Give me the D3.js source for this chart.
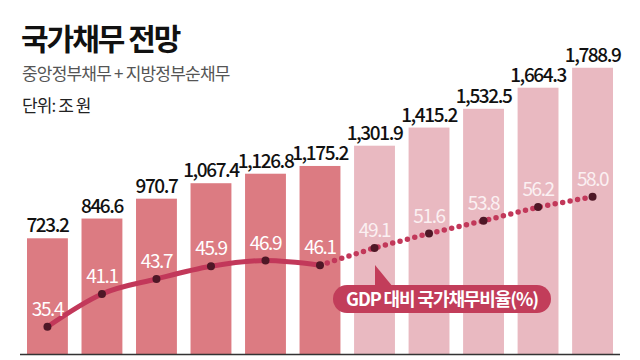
<!DOCTYPE html>
<html><head><meta charset="utf-8">
<script src="https://cdn.jsdelivr.net/npm/d3@7"></script>
<style>body{margin:0;background:#fff}svg{display:block}text{font-family:"Noto Sans CJK KR","Noto Sans",sans-serif}</style>
</head><body><svg id="c" width="640" height="360"></svg>
<script>
const categories = ["1","2","3","4","5","6","7","8","9","10","11"];
const debt = [723.2, 846.6, 970.7, 1067.4, 1126.8, 1175.2, 1301.9, 1415.2, 1532.5, 1664.3, 1788.9];
const debtLabels = ["723.2","846.6","970.7","1,067.4","1,126.8","1,175.2","1,301.9","1,415.2","1,532.5","1,664.3","1,788.9"];
const ratio = [35.4, 41.1, 43.7, 45.9, 46.9, 46.1, 49.1, 51.6, 53.8, 56.2, 58.0];
const actualCount = 6;

const svg = d3.select("#c");
const x = d3.scaleBand().domain(categories).range([27, 613]).paddingInner(0.25).paddingOuter(0);
const y = d3.scaleLinear().domain([0, 2000]).range([354, 34]);
const yr = d3.scaleLinear().domain([30, 60]).range([357.8, 185.2]);
const cx = i => x(categories[i]) + x.bandwidth() / 2;

// title
svg.append("text").attr("x", 21).attr("y", 50).attr("font-size", 30).attr("font-weight", 700)
  .attr("letter-spacing", -2).attr("fill", "#111").text("국가채무 전망");
svg.append("text").attr("x", 22).attr("y", 80).attr("font-size", 17).attr("letter-spacing", -0.8)
  .attr("fill", "#555").text("중앙정부채무 + 지방정부순채무");
svg.append("text").attr("x", 22).attr("y", 112).attr("font-size", 17).attr("letter-spacing", -0.9)
  .attr("fill", "#222").text("단위: 조 원");

// bars
svg.selectAll("rect.bar").data(debt).join("rect").attr("class", "bar")
  .attr("x", (d, i) => x(categories[i])).attr("width", x.bandwidth())
  .attr("y", d => y(d)).attr("height", d => y(0) - y(d))
  .attr("fill", (d, i) => i < actualCount ? "#dc7b82" : "#e9b9c1");

svg.selectAll("text.val").data(debt).join("text").attr("class", "val")
  .attr("x", (d, i) => cx(i)).attr("y", d => y(d) - 6)
  .attr("text-anchor", "middle").attr("font-size", 19).attr("font-weight", 500)
  .attr("letter-spacing", -1.4).attr("fill", "#111")
  .text((d, i) => debtLabels[i]);

// axis line
svg.append("line").attr("x1", 20).attr("x2", 620).attr("y1", 354.5).attr("y2", 354.5)
  .attr("stroke", "#333").attr("stroke-width", 1.5);

// ratio line
const pts = ratio.map((v, i) => [cx(i), yr(v)]);
const solid = d3.line().curve(d3.curveMonotoneX);
svg.append("path").attr("d", solid(pts.slice(0, actualCount)))
  .attr("fill", "none").attr("stroke", "#c2385a").attr("stroke-width", 5).attr("stroke-linecap", "round");
svg.append("path").attr("d", d3.line()(pts.slice(actualCount - 1)))
  .attr("fill", "none").attr("stroke", "#c2385a").attr("stroke-width", 5.5)
  .attr("stroke-linecap", "round").attr("stroke-dasharray", "0 7.6");

svg.selectAll("circle.pt").data(ratio).join("circle").attr("class", "pt")
  .attr("cx", (d, i) => cx(i)).attr("cy", d => yr(d)).attr("r", 4)
  .attr("fill", "#4e1726");

svg.selectAll("text.rat").data(ratio).join("text").attr("class", "rat")
  .attr("x", (d, i) => cx(i)).attr("y", d => yr(d) - 11)
  .attr("text-anchor", "middle").attr("font-size", 19).attr("font-weight", 400).attr("letter-spacing", -1.4)
  .attr("fill", (d, i) => i < actualCount ? "#ffffff" : "#fbf0f2")
  .text(d => d.toFixed(1));

// callout
const g = svg.append("g");
g.append("path").attr("d", "M375,265 L375,287 L393,287 Z").attr("fill", "#c23d5a");
g.append("rect").attr("x", 333).attr("y", 285).attr("width", 218).attr("height", 28).attr("rx", 14)
  .attr("fill", "#c23d5a");
g.append("text").attr("x", 442).attr("y", 306).attr("text-anchor", "middle").attr("font-size", 18)
  .attr("font-weight", 700).attr("letter-spacing", -1.1).attr("fill", "#fff").text("GDP 대비 국가채무비율(%)");
</script></body></html>
